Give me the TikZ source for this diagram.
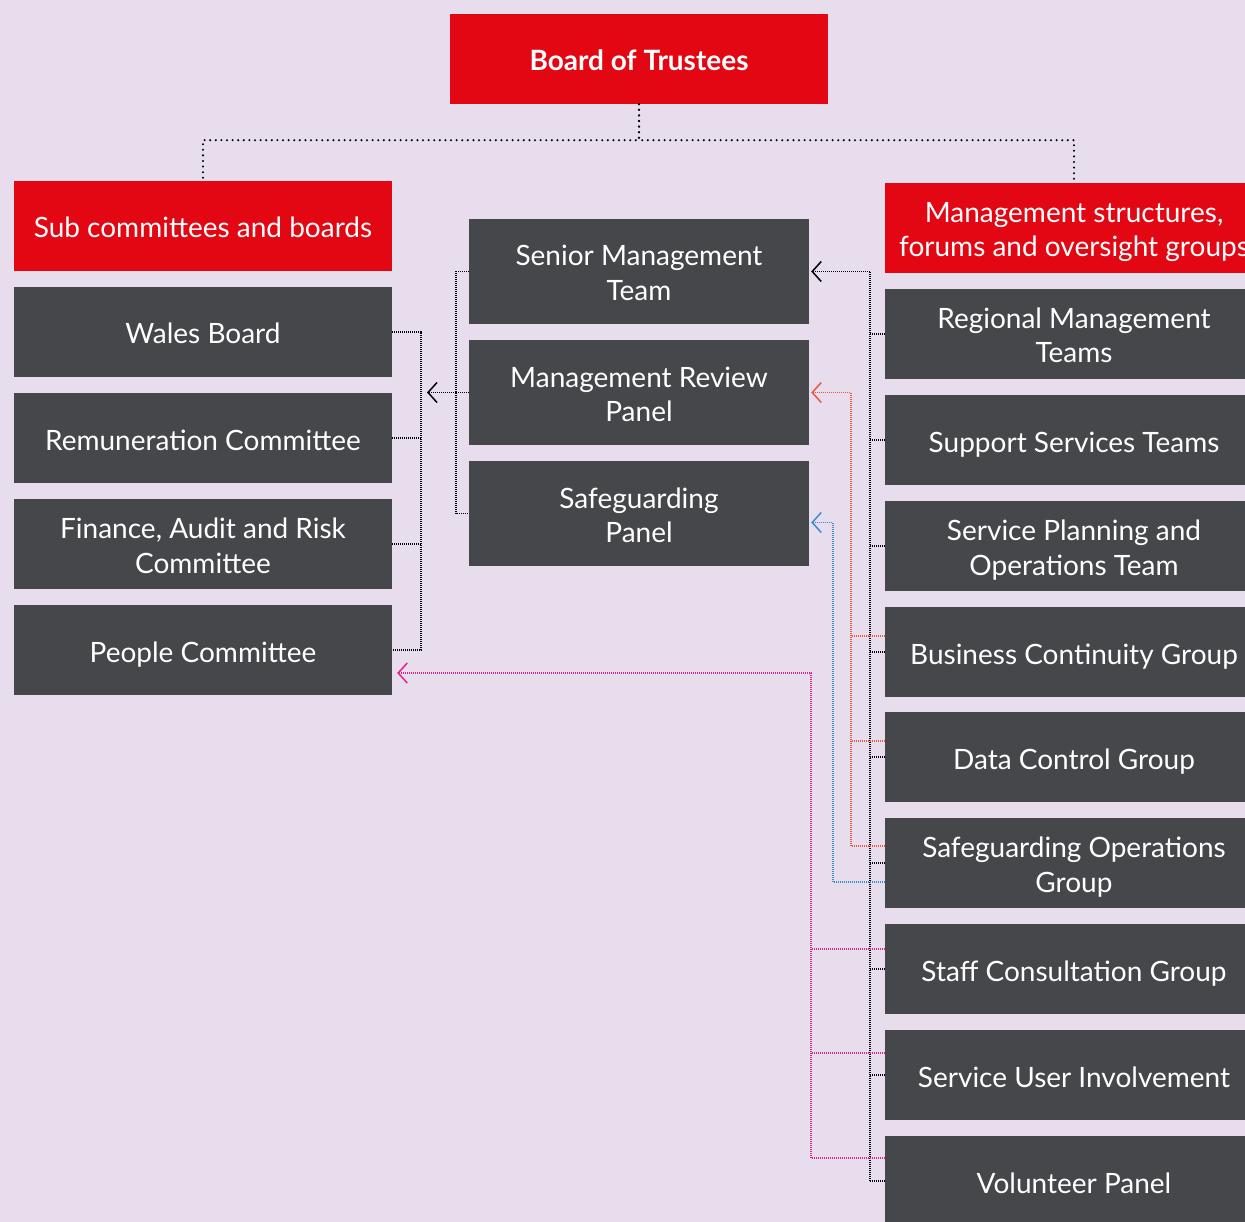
\documentclass[tikz,border=0pt]{standalone}
\usepackage{fontspec}
\setmainfont{Lato}
\usetikzlibrary{arrows.meta}
\definecolor{bgc}{HTML}{E7DDEC}
\definecolor{redc}{HTML}{E30613}
\definecolor{darkc}{HTML}{46474B}
\definecolor{redl}{HTML}{E85A46}
\definecolor{bluel}{HTML}{3D8FCB}
\definecolor{pinkl}{HTML}{E2238C}
\tikzset{
  box/.style={fill=darkc, text=white, minimum width=378pt, minimum height=90pt, inner sep=0pt, align=center, font=\fontsize{28}{34.5}\selectfont,
    text height=31pt, text depth=7pt},
  two/.style={text height=64pt, text depth=6pt},
  redbox/.style={box, fill=redc},
  midbox/.style={box, minimum width=340pt, minimum height=105pt},
  bdots/.style={line width=2.3pt, dash pattern=on 0pt off 5.6pt, line cap=round},
  fine/.style={line width=1.2pt, dash pattern=on 1pt off 1pt},
  tip/.style={-{Straight Barb[length=9pt,width=20pt,line width=1.5pt]}},
}
\begin{document}
\begin{tikzpicture}[x=1pt,y=-1pt]
\useasboundingbox (0,0) rectangle (1245,1222);
\fill[bgc] (0,0) rectangle (1245,1222);
\begin{scope}
\clip (0,0) rectangle (1245,1222);
% top
\node[redbox, font=\fontsize{28}{34.5}\selectfont\bfseries] (board) at (639,59) {Board of Trustees};
% left
\node[redbox] (subc) at (203,226) {Sub committees and boards};
\node[box] (wales) at (203,332) {Wales Board};
\node[box] (rem) at (203,438) {Remuneration Committee};
\node[box,two] (far) at (203,544) {Finance, Audit and Risk\\Committee};
\node[box] (people) at (203,650) {People Committee};
% middle
\node[midbox,two] (smt) at (639,271.5) {Senior Management\\Team};
\node[midbox,two] (mrp) at (639,392.5) {Management Review\\Panel};
\node[midbox,two] (sp) at (639,513.5) {Safeguarding\\Panel};
% right
\node[redbox,two] (mgmt) at (1074,228) {Management structures,\\forums and oversight groups};
\node[box,two] (reg) at (1074,334) {Regional Management\\Teams};
\node[box] (sup) at (1074,440) {Support Services Teams};
\node[box,two] (spo) at (1074,546) {Service Planning and\\Operations Team};
\node[box] (bcg) at (1074,652) {Business Continuity Group};
\node[box] (dcg) at (1074,757) {Data Control Group};
\node[box,two] (sog) at (1074,863) {Safeguarding Operations\\Group};
\node[box] (scg) at (1074,969) {Staff Consultation Group};
\node[box] (sui) at (1074,1075) {Service User Involvement};
\node[box] (vp) at (1074,1181) {Volunteer Panel};
\end{scope}
% guide coordinates
\coordinate (lbx) at (421,0);
\coordinate (mbx) at (456,0);
\coordinate (rbx) at (870,0);
\coordinate (rx) at (851,0);
\coordinate (bx) at (833,0);
\coordinate (px) at (811,0);
% board connectors
\draw[bdots] (board.south) -- ++(0,36) -| (subc.north);
\draw[bdots] (board.south) -- ++(0,36) -| (mgmt.north);
% left bracket
\draw[fine] (wales.east) -- (wales.east -| lbx) -- (people.east -| lbx) -- (people.east);
\draw[fine] (rem.east) -- (rem.east -| lbx);
\draw[fine] (far.east) -- (far.east -| lbx);
% middle bracket
\draw[fine] (smt.west) -- (smt.west -| mbx) -- (sp.west -| mbx) -- (sp.west);
\draw[fine] (mrp.west) -- (mrp.west -| mbx);
\coordinate (lbarrow) at ([xshift=6pt]mrp.west -| lbx);
\draw[fine,tip] (mrp.west -| mbx) -- (lbarrow);
% right black bracket
\coordinate (smtarrow) at ([xshift=2pt]smt.east);
\draw[fine,tip] (vp.west -| rbx) -- (smt.east -| rbx) -- (smtarrow);
\foreach \n in {reg,sup,spo,bcg,dcg,sog,scg,sui,vp}{
  \draw[fine] (\n.west) -- (\n.west -| rbx);
}
% red connector
\coordinate (bcgr) at ([yshift=16pt]bcg.west);
\coordinate (dcgr) at ([yshift=16pt]dcg.west);
\coordinate (sogr) at ([yshift=17pt]sog.west);
\coordinate (mrparrow) at ([xshift=2pt]mrp.east);
\draw[fine,redl,tip] (sogr) -| (mrp.east -| rx) -- (mrparrow);
\draw[fine,redl] (bcgr) -- (bcgr -| rx);
\draw[fine,redl] (dcgr) -- (dcgr -| rx);
% blue connector
\coordinate (sogb) at ([yshift=-19pt]sog.west);
\coordinate (sparrow) at ([xshift=2pt,yshift=-9pt]sp.east);
\draw[fine,bluel,tip] (sogb) -| (sparrow -| bx) -- (sparrow);
% pink connector
\coordinate (scgp) at ([yshift=20pt]scg.west);
\coordinate (suip) at ([yshift=22pt]sui.west);
\coordinate (vpp) at ([yshift=23pt]vp.west);
\coordinate (pplarrow) at ([xshift=5pt,yshift=-23pt]people.east);
\draw[fine,pinkl,tip] (vpp) -| (pplarrow -| px) -- (pplarrow);
\draw[fine,pinkl] (scgp) -- (scgp -| px);
\draw[fine,pinkl] (suip) -- (suip -| px);
\end{tikzpicture}
\end{document}
